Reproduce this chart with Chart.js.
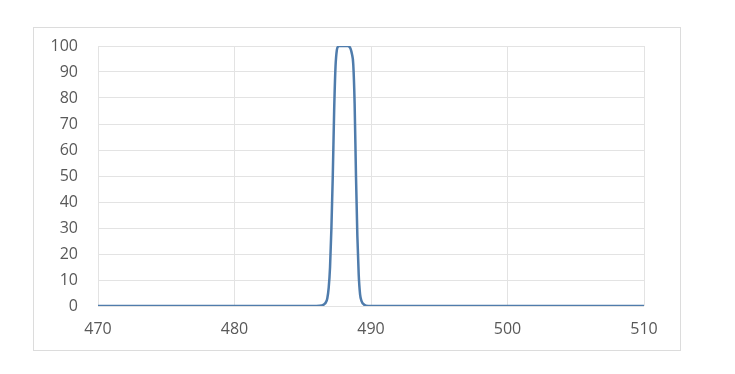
<!DOCTYPE html>
<html>
<head>
<meta charset="utf-8">
<script src="https://cdn.jsdelivr.net/npm/chart.js@4"></script>
<style>
    html, body { margin: 0; padding: 0; background: #ffffff; }
    #frame {
        position: absolute;
        left: 33px;
        top: 27px;
        width: 646px;
        height: 322px;
        border: 1px solid #dcdcdc;
    }
</style>
</head>
<body>
<div id="frame"><canvas id="chart" width="646" height="322"></canvas></div>
<script>
// Wavelength (nm) and transmission (%)
const wavelengths = [470, 486.0, 486.4, 486.6, 486.7, 486.8, 486.9, 487.0, 487.1, 487.2, 487.3, 487.4, 487.5, 487.6, 487.7,
    488.3, 488.4, 488.5, 488.6, 488.7, 488.8, 488.9, 489.0, 489.1, 489.2, 489.3, 489.5, 489.8, 510];
const transmission = [0, 0, 0.2, 0.8, 1.5, 3, 7, 15, 30, 50, 75, 92, 98.5, 99.8, 100,
    100, 99.8, 99, 97, 93, 78, 50, 27, 12, 4.5, 2, 0.5, 0, 0];

const xTicks = [470, 480, 490, 500, 510];
const yTicks = [0, 10, 20, 30, 40, 50, 60, 70, 80, 90, 100];

document.addEventListener('DOMContentLoaded', function() {
    const ctx = document.getElementById('chart').getContext('2d');
    const points = wavelengths.map((w, i) => ({ x: w, y: transmission[i] }));

    new Chart(ctx, {
        type: 'line',
        data: {
            datasets: [{
                data: points,
                borderColor: '#4f7cac',
                borderWidth: 2.5,
                pointRadius: 0,
                fill: false,
                cubicInterpolationMode: 'monotone'
            }]
        },
        options: {
            responsive: false,
            animation: false,
            layout: { padding: { left: 0, right: 36, top: 18, bottom: 0 } },
            plugins: {
                legend: { display: false },
                tooltip: { enabled: false }
            },
            scales: {
                x: {
                    type: 'linear',
                    min: 470,
                    max: 510,
                    afterBuildTicks: axis => { axis.ticks = xTicks.map(v => ({ value: v })); },
                    afterFit: axis => { axis.height = 44; },
                    grid: { color: '#e3e3e3', drawTicks: false },
                    border: { display: false },
                    ticks: {
                        padding: 14,
                        color: '#595959',
                        font: { family: 'Open Sans', size: 16 }
                    }
                },
                y: {
                    min: 0,
                    max: 100,
                    afterBuildTicks: axis => { axis.ticks = yTicks.map(v => ({ value: v })); },
                    afterFit: axis => {
                        axis.width = 64;
                        axis.paddingTop = 0;
                        axis.paddingBottom = 0;
                    },
                    grid: { color: '#e3e3e3', drawTicks: false },
                    border: { display: false },
                    ticks: {
                        padding: 20,
                        color: '#595959',
                        font: { family: 'Open Sans', size: 16 }
                    }
                }
            }
        }
    });
});
</script>
</body>
</html>
